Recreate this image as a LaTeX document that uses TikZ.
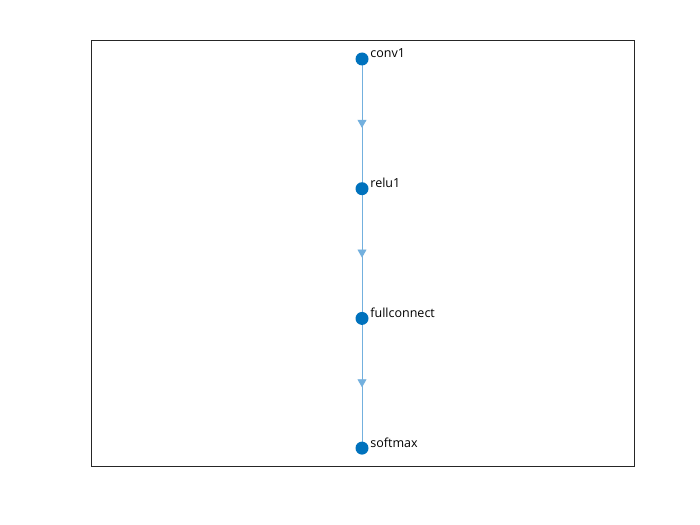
\documentclass[tikz,border=0pt]{standalone}
\usepackage{fontspec}
\setmainfont{Open Sans}
\usetikzlibrary{positioning,arrows.meta,decorations.markings,backgrounds}

\definecolor{nodeblue}{rgb}{0,0.447,0.741}
\definecolor{edgeblue}{rgb}{0.45,0.69,0.87}

\begin{document}
\begin{tikzpicture}[
    x=1pt, y=-1pt,
    layer/.style={circle, fill=nodeblue, minimum size=13pt, inner sep=0pt,
        label={[lbl]0:#1}},
    lbl/.style={anchor=base west, inner sep=0pt, xshift=1.5pt, yshift=1pt, font=\fontsize{12.5}{14}\selectfont},
    flow/.style={edgeblue, line width=0.7pt,
        postaction={decorate},
        decoration={markings, mark=at position 0.5 with {\arrow[xshift=4pt]{Triangle[width=9pt,length=8pt]}}}},
    node distance=116.3pt
]
\useasboundingbox (0,0) rectangle (700,524);
\draw[black!85, line width=0.6pt] (91,40) rectangle (634,466);

\node[layer=conv1] (conv1) at (362,59) {};
\node[layer=relu1, below=of conv1] (relu1) {};
\node[layer=fullconnect, below=of relu1] (fullconnect) {};
\node[layer=softmax, below=of fullconnect] (softmax) {};

% Edges
\begin{pgfonlayer}{background}
\fill[white] (0,0) rectangle (700,524);
\draw[flow] (conv1.center) -- (relu1.center);
\draw[flow] (relu1.center) -- (fullconnect.center);
\draw[flow] (fullconnect.center) -- (softmax.center);
\end{pgfonlayer}
\end{tikzpicture}
\end{document}
